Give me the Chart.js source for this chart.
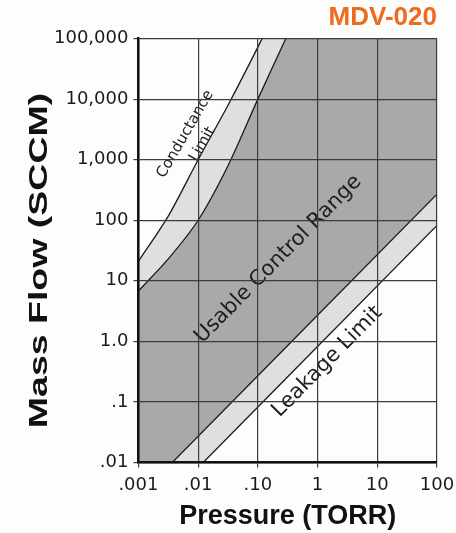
<!DOCTYPE html>
<html>
<head>
<meta charset="utf-8">
<script src="https://cdn.jsdelivr.net/npm/chart.js@4.4.1/dist/chart.umd.min.js"></script>
<style>
  html, body { margin: 0; padding: 0; background: #fdfdfb; }
  #wrap { width: 456px; height: 533px; }
</style>
</head>
<body>
<div id="wrap"><canvas id="mdvChart"></canvas></div>
<script>
// Axis ticks
var pressureTicks = [0.001, 0.01, 0.1, 1, 10, 100];
var pressureLabels = ['.001', '.01', '.10', '1', '10', '100'];
var flowTicks = [0.01, 0.1, 1, 10, 100, 1000, 10000, 100000];
var flowLabels = ['.01', '.1', '1.0', '10', '100', '1,000', '10,000', '100,000'];

// Conductance limit band (outer and inner edge)
var condOuterP = [0.001, 0.00316, 0.01, 0.0316, 0.1, 0.316];
var condOuterF = [21, 117, 1000, 7940, 72400, 724000];
var condInnerP = [0.001, 0.00316, 0.01, 0.0316, 0.1, 0.316];
var condInnerF = [6.8, 23, 100, 794, 10000, 117000];

// Leakage limit band (upper and lower edge)
var leakHighP = [0.001, 100];
var leakHighF = [0.0027, 270];
var leakLowP = [0.001, 100];
var leakLowF = [0.00082, 82];

function pts(xs, ys) {
    return xs.map(function (x, i) { return {x: x, y: ys[i]}; });
}

var DARK = '#a9a9a9';
var LIGHT = '#dfdfdf';
var PAPER = '#fdfdfb';

// rotated text inside the plot, placed in data coordinates
var areaText = {
    id: 'areaText',
    afterDatasetsDraw: function (chart) {
        var ctx = chart.ctx, xs = chart.scales.x, ys = chart.scales.y;
        var items = [
            {t: 'Conductance', p: 0.0061, f: 2630, a: -60, s: 15},
            {t: 'Limit', p: 0.0118, f: 1800, a: -60, s: 15},
            {t: 'Usable Control Range', p: 0.22, f: 22.7, a: -45.3, s: 21},
            {t: 'Leakage Limit', p: 1.45, f: 0.46, a: -45.3, s: 21}
        ];
        ctx.save();
        ctx.fillStyle = '#1e1e1e';
        ctx.textAlign = 'center';
        ctx.textBaseline = 'middle';
        items.forEach(function (it) {
            ctx.save();
            ctx.translate(xs.getPixelForValue(it.p), ys.getPixelForValue(it.f));
            ctx.rotate(it.a * Math.PI / 180);
            ctx.font = it.s + 'px "DejaVu Sans"';
            ctx.fillText(it.t, 0, 0);
            ctx.restore();
        });
        ctx.restore();
    },
    // y axis title, set in a wide (stretched) face like the original
    afterDraw: function (chart) {
        var ctx = chart.ctx, a = chart.chartArea;
        ctx.save();
        ctx.translate(40, (a.top + a.bottom) / 2 + 10);
        ctx.rotate(-Math.PI / 2);
        ctx.scale(1.5, 1);
        ctx.font = 'bold 25px "Liberation Sans", Arial, sans-serif';
        ctx.fillStyle = '#111';
        ctx.textAlign = 'center';
        ctx.textBaseline = 'middle';
        ctx.fillText('Mass Flow (SCCM)', 0, 0);
        ctx.restore();
    }
};

var lineStyle = {borderColor: '#1a1a1a', borderWidth: 1.3, pointRadius: 0, tension: 0.3};

var mdvChart = new Chart(document.getElementById('mdvChart'), {
    type: 'line',
    data: {
        datasets: [
            Object.assign({label: 'Conductance outer', data: pts(condOuterP, condOuterF), fill: 'end', backgroundColor: PAPER}, lineStyle),
            Object.assign({label: 'Conductance inner', data: pts(condInnerP, condInnerF), fill: 'end', backgroundColor: LIGHT}, lineStyle),
            Object.assign({label: 'Leakage upper', data: pts(leakHighP, leakHighF), fill: 'end', backgroundColor: DARK}, lineStyle),
            Object.assign({label: 'Leakage lower', data: pts(leakLowP, leakLowF), fill: 'end', backgroundColor: LIGHT}, lineStyle)
        ]
    },
    options: {
        responsive: true,
        maintainAspectRatio: false,
        animation: false,
        layout: {padding: {left: 49, right: 19, top: 0, bottom: 0}},
        plugins: {
            legend: {display: false},
            tooltip: {enabled: false},
            title: {
                display: true,
                text: 'MDV-020',
                align: 'end',
                color: '#ee6a1e',
                font: {family: '"Liberation Sans", Arial, sans-serif', size: 26, weight: 'bold', lineHeight: 1.1},
                padding: {top: 4, bottom: 6}
            }
        },
        scales: {
            x: {
                type: 'logarithmic',
                min: 0.001,
                max: 100,
                afterBuildTicks: function (s) { s.ticks = pressureTicks.map(function (v) { return {value: v}; }); },
                afterFit: function (s) { s.paddingLeft = 0; s.paddingRight = 0; },
                ticks: {
                    autoSkip: false,
                    maxRotation: 0,
                    padding: 7,
                    color: '#1a1a1a',
                    font: {family: '"DejaVu Sans"', size: 18},
                    callback: function (v, i) { return pressureLabels[i]; }
                },
                grid: {color: '#3c3c3c', lineWidth: 1.2, tickLength: 5, z: 1},
                border: {display: true, color: '#111', width: 2.5, z: 2},
                title: {
                    display: true,
                    text: 'Pressure (TORR)',
                    color: '#111',
                    font: {family: '"Liberation Sans", Arial, sans-serif', size: 27, weight: 'bold', lineHeight: 1},
                    padding: {top: 0, bottom: 3}
                }
            },
            y: {
                type: 'logarithmic',
                min: 0.01,
                max: 100000,
                afterBuildTicks: function (s) { s.ticks = flowTicks.map(function (v) { return {value: v}; }); },
                ticks: {
                    autoSkip: false,
                    padding: 5,
                    color: '#1a1a1a',
                    font: {family: '"DejaVu Sans"', size: 18},
                    callback: function (v, i) { return flowLabels[i]; }
                },
                grid: {color: '#3c3c3c', lineWidth: 1.2, tickLength: 5, z: 1},
                border: {display: true, color: '#111', width: 2.5, z: 2}
            }
        }
    },
    plugins: [areaText]
});
</script>
</body>
</html>
